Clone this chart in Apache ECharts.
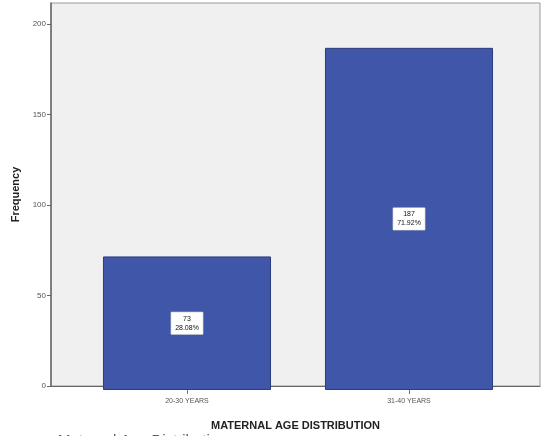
<!DOCTYPE html>
<html>
<head>
<meta charset="utf-8">
<script src="https://cdn.jsdelivr.net/npm/echarts@6/dist/echarts.min.js"></script>
<style>html,body{margin:0;padding:0;background:#fff;}#c{width:544px;height:436px;}</style>
</head>
<body>
<div id="c"></div>
<script>
const categories = ['20-30 YEARS', '31-40 YEARS'];
const frequency = [73, 187];
const percents = ['28.08%', '71.92%'];
const yTicks = [0, 50, 100, 150, 200];

const chart = echarts.init(document.getElementById('c'), null, {renderer: 'canvas'});
const yMax = 211.5;
chart.setOption({
  animation: false,
  backgroundColor: '#ffffff',
  title: {
    text: 'Maternal Age Distribution',
    left: 58, top: 433, padding: 0,
    textStyle: {fontFamily: 'Liberation Sans', fontSize: 15, fontWeight: 'normal', color: '#555'}
  },
  grid: [
    {left: 51, right: 4, top: 3, bottom: 46, show: true, backgroundColor: '#f0f0f0', borderColor: '#9a9a9a', borderWidth: 1},
    {left: 76, right: 24, top: 3, bottom: 46}
  ],
  xAxis: [
    {gridIndex: 0, type: 'value', min: 0, max: 1,
     axisLine: {show: true, lineStyle: {color: '#666', width: 1.2}},
     axisTick: {show: false}, axisLabel: {show: false}, splitLine: {show: false},
     name: 'MATERNAL AGE DISTRIBUTION', nameLocation: 'middle', nameGap: 34,
     nameTextStyle: {fontFamily: 'Liberation Sans', fontSize: 11, fontWeight: 'bold', color: '#222'}},
    {gridIndex: 1, type: 'category', data: categories,
     axisLine: {show: false},
     axisTick: {show: true, alignWithLabel: true, length: 4, lineStyle: {color: '#777'}},
     axisLabel: {fontFamily: 'Liberation Sans', fontSize: 7, color: '#555', margin: 8}}
  ],
  yAxis: [
    {gridIndex: 0, type: 'value', min: 0, max: yMax, interval: 50,
     axisLine: {show: true, lineStyle: {color: '#666', width: 1.5}},
     axisTick: {show: true, length: 4, lineStyle: {color: '#666'}},
     axisLabel: {fontFamily: 'Liberation Sans', fontSize: 8, color: '#555', margin: 5,
       showMaxLabel: false,
       formatter: v => (yTicks.indexOf(v) >= 0 ? String(v) : '')},
     splitLine: {show: false},
     name: 'Frequency', nameLocation: 'middle', nameGap: 24,
     nameTextStyle: {fontFamily: 'Liberation Sans', fontSize: 11, fontWeight: 'bold', color: '#222'}},
    {gridIndex: 1, type: 'value', min: 0, max: yMax, show: false}
  ],
  series: [{
    type: 'bar',
    xAxisIndex: 1, yAxisIndex: 1,
    data: frequency,
    barCategoryGap: '24.3%',
    itemStyle: {color: '#3f56a9', borderColor: '#2c3c7e', borderWidth: 1},
    label: {
      show: true, position: 'inside',
      formatter: p => p.value + '\n' + percents[p.dataIndex],
      fontFamily: 'Liberation Sans', fontSize: 7, lineHeight: 9, color: '#111',
      backgroundColor: '#ffffff', padding: [2, 4], borderColor: '#ccc', borderWidth: 0.5
    }
  }]
});
</script>
</body>
</html>
